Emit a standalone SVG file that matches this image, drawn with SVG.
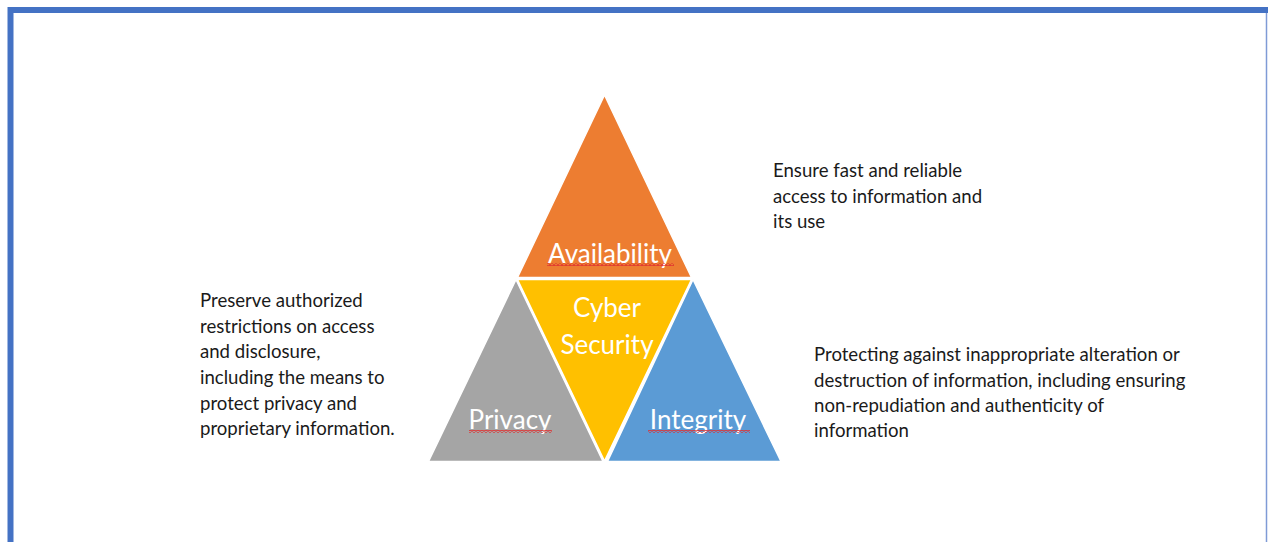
<svg xmlns="http://www.w3.org/2000/svg" width="1268" height="542" viewBox="0 0 1268 542">
  <defs>
    <style>
      .desc { font-family: Lato, "Liberation Sans", sans-serif; font-size: 18.6px; fill: #1a1a1a; }
      .lbl { font-family: Lato, "Liberation Sans", sans-serif; font-size: 26px; fill: #ffffff; text-anchor: middle; }
      .tri { stroke: #ffffff; stroke-width: 1.5; stroke-linejoin: miter; }
    </style>
    <!-- red squiggle used for the spell-check underline -->
    <pattern id="squiggle" width="4" height="3" patternUnits="userSpaceOnUse">
      <path d="M0 2.4 L2 0.6 L4 2.4" fill="none" stroke="#e03030" stroke-width="1.1"/>
    </pattern>
  </defs>

  <rect width="1268" height="542" fill="#ffffff"/>

  <!-- page frame -->
  <path d="M10.5 542 V10 H1268" fill="none" stroke="#4472c4" stroke-width="6"/>
  <line x1="1266.5" y1="13" x2="1266.5" y2="542" stroke="#7f9bd6" stroke-width="1.5"/>

  <!-- triad -->
  <g id="availability">
    <polygon class="tri" points="604.5,95 517.5,277.5 691.5,277.5" fill="#ed7d31"/>
    <text class="lbl" x="610" y="263">Availability</text>
    <rect x="547" y="263" width="127" height="3" fill="url(#squiggle)"/>
  </g>

  <g id="privacy">
    <polygon class="tri" points="516,279.5 428.5,461.5 603,461.5" fill="#a5a5a5"/>
    <text class="lbl" x="510" y="429">Privacy</text>
    <rect x="469" y="430" width="83" height="3" fill="url(#squiggle)"/>
  </g>

  <g id="integrity">
    <polygon class="tri" points="693,279.5 607.5,461.5 781,461.5" fill="#5b9bd5"/>
    <text class="lbl" x="698" y="429">Integrity</text>
    <rect x="648" y="430" width="102" height="3" fill="url(#squiggle)"/>
  </g>

  <g id="cyber-security">
    <polygon class="tri" points="517.5,279.5 691.5,279.5 604.5,461" fill="#ffc000"/>
    <text class="lbl" x="607" y="317">Cyber</text>
    <text class="lbl" x="607" y="354">Security</text>
  </g>

  <!-- descriptions -->
  <g id="availability-note">
    <text class="desc" x="773" y="177">Ensure fast and reliable</text>
    <text class="desc" x="773" y="203">access to information and</text>
    <text class="desc" x="773" y="228">its use</text>
  </g>

  <g id="privacy-note">
    <text class="desc" x="200" y="307">Preserve authorized</text>
    <text class="desc" x="200" y="333">restrictions on access</text>
    <text class="desc" x="200" y="358">and disclosure,</text>
    <text class="desc" x="200" y="384">including the means to</text>
    <text class="desc" x="200" y="410">protect privacy and</text>
    <text class="desc" x="200" y="435">proprietary information.</text>
  </g>

  <g id="integrity-note">
    <text class="desc" x="814" y="361">Protecting against inappropriate alteration or</text>
    <text class="desc" x="814" y="387">destruction of information, including ensuring</text>
    <text class="desc" x="814" y="412">non-repudiation and authenticity of</text>
    <text class="desc" x="814" y="437">information</text>
  </g>

  <g id="connectors"></g>
</svg>
